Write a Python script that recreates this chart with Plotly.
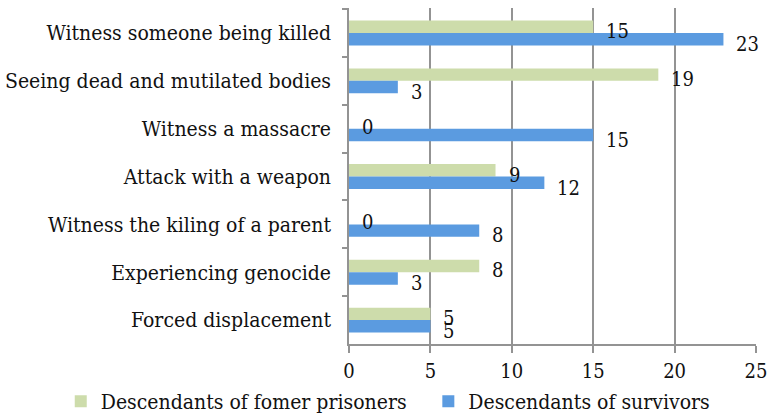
import plotly.graph_objects as go

categories = [
    "Witness someone being killed",
    "Seeing dead and mutilated bodies",
    "Witness a massacre",
    "Attack with a weapon",
    "Witness the kiling of a parent",
    "Experiencing genocide",
    "Forced displacement",
]
prisoners = [15, 19, 0, 9, 0, 8, 5]
survivors = [23, 3, 15, 12, 8, 3, 5]
x_ticks = [0, 5, 10, 15, 20, 25]

FONT = "DejaVu Serif Condensed"
GREEN = "#cddcab"
BLUE = "#5b9be0"
GRID = "#939393"
FS = 20

fig = go.Figure()
fig.add_trace(go.Bar(
    y=categories, x=prisoners, orientation="h", name="Descendants of fomer prisoners",
    marker=dict(color=GREEN, line=dict(width=0)), legend="legend",
))
fig.add_trace(go.Bar(
    y=categories, x=survivors, orientation="h", name="Descendants of survivors",
    marker=dict(color=BLUE, line=dict(width=0)), legend="legend2",
))

annotations = []
for cat, v in zip(categories, prisoners):
    annotations.append(dict(x=v, y=cat, xref="x", yref="y", text=str(v), showarrow=False,
                            xanchor="left", yanchor="middle", xshift=11, yshift=2,
                            font=dict(family=FONT, size=FS, color="#111")))
for cat, v in zip(categories, survivors):
    annotations.append(dict(x=v, y=cat, xref="x", yref="y", text=str(v), showarrow=False,
                            xanchor="left", yanchor="middle", xshift=11, yshift=-11,
                            font=dict(family=FONT, size=FS, color="#111")))

leg_common = dict(orientation="h", xref="container", yref="container",
                  xanchor="left", yanchor="middle", font=dict(family=FONT, size=FS + 1),
                  bgcolor="rgba(0,0,0,0)", itemwidth=30)

fig.update_layout(
    width=769, height=414,
    margin=dict(l=349, r=13, t=8, b=70, autoexpand=False),
    paper_bgcolor="white", plot_bgcolor="white",
    barmode="group", bargap=0.48, bargroupgap=0,
    font=dict(family=FONT, size=FS, color="#111"),
    showlegend=True,
    legend=dict(x=0.079, y=0.03, **leg_common),
    legend2=dict(x=0.557, y=0.03, **leg_common),
    annotations=annotations,
    xaxis=dict(range=[0, 25], tickvals=x_ticks, showgrid=True, gridcolor=GRID, gridwidth=1.5,
               showline=True, linecolor=GRID, linewidth=1.5, ticks="outside", ticklen=7,
               tickcolor=GRID, tickwidth=1.5, zeroline=False, automargin=False,
               ticklabelstandoff=1,
               tickfont=dict(family=FONT, size=FS, color="#111")),
    yaxis=dict(autorange="reversed", type="category", tickson="boundaries", ticks="outside",
               ticklen=5, tickcolor=GRID, tickwidth=1.5, showline=True, linecolor=GRID,
               linewidth=1.5, showgrid=False, ticklabelstandoff=12, automargin=False,
               tickfont=dict(family=FONT, size=FS + 1, color="#111")),
)

fig.write_html("out.html", config={"displayModeBar": False},
               post_script="document.body.style.margin='0';")
